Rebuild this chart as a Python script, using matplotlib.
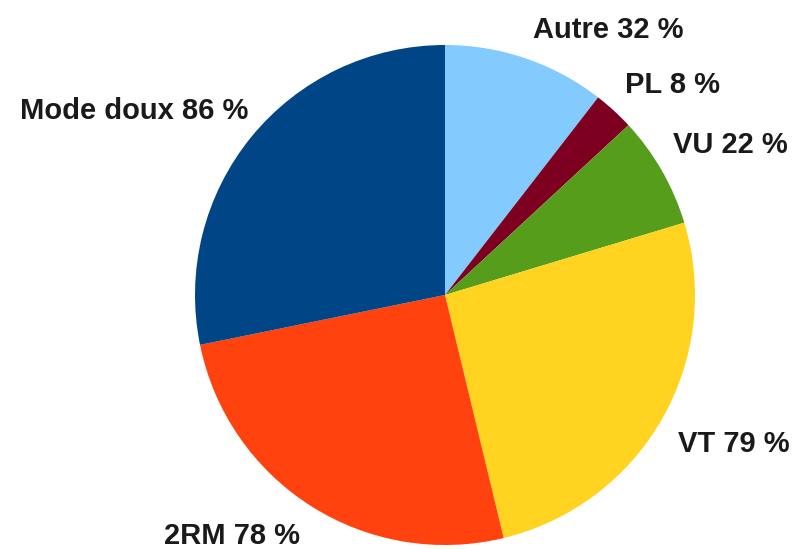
import matplotlib
matplotlib.use("Agg")
import matplotlib.pyplot as plt

# donnees
labels = ["Autre", "PL", "VU", "VT", "2RM", "Mode doux"]
values = [32, 8, 22, 79, 78, 86]
colors = ["#83caff", "#7e0021", "#579d1c", "#ffd320", "#ff420e", "#004586"]

# position des etiquettes (x, y baseline, alignement)
label_pos = [(0.352, 1.028, "left"),
             (0.72, 0.808, "left"),
             (0.912, 0.568, "left"),
             (0.932, -0.628, "left"),
             (-0.58, -0.995, "right"),
             (-0.788, 0.704, "right")]

plt.rcParams["font.family"] = ["Liberation Sans", "DejaVu Sans"]

fig = plt.figure(figsize=(7.98, 5.49), dpi=100)
ax = fig.add_axes([195 / 798, 4 / 549, 500 / 798, 500 / 549])

ax.pie(values, colors=colors, startangle=90, counterclock=False,
       radius=1.0, wedgeprops=dict(linewidth=0))

for lab, v, (x, y, ha) in zip(labels, values, label_pos):
    ax.text(x, y, "%s %d %%" % (lab, v), ha=ha, va="baseline",
            fontsize=21, fontweight="bold", color="#1a1a1a")

ax.set_xlim(-1, 1)
ax.set_ylim(-1, 1)
ax.axis("off")

fig.savefig("out.png", dpi=100)
